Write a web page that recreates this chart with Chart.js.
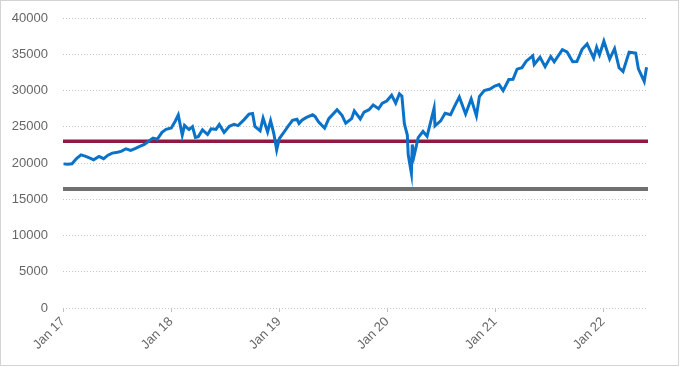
<!DOCTYPE html>
<html>
<head>
<meta charset="utf-8">
<script src="https://cdn.jsdelivr.net/npm/chart.js@4"></script>
<style>
  html, body { margin: 0; padding: 0; background: #fff; }
  #wrap { width: 682px; height: 369px; }
</style>
</head>
<body>
<div id="wrap"><canvas id="dowChart" width="682" height="369"></canvas></div>
<script>
// Index level (roughly twice a month)
const dates = [
  '2017-01-03', '2017-01-17', '2017-02-01', '2017-02-15', '2017-03-01', '2017-03-15', '2017-04-03', '2017-04-13',
  '2017-05-01', '2017-05-17', '2017-06-01', '2017-06-15', '2017-07-03', '2017-07-17', '2017-08-01', '2017-08-17',
  '2017-09-01', '2017-09-15', '2017-10-02', '2017-10-16', '2017-11-01', '2017-11-15', '2017-12-01', '2017-12-15',
  '2018-01-02', '2018-01-16', '2018-01-26', '2018-02-08', '2018-02-15', '2018-03-01', '2018-03-13', '2018-03-23',
  '2018-04-02', '2018-04-16', '2018-05-03', '2018-05-15', '2018-06-01', '2018-06-12', '2018-06-28', '2018-07-16',
  '2018-08-01', '2018-08-15', '2018-09-04', '2018-09-21', '2018-10-03', '2018-10-11', '2018-10-29', '2018-11-08',
  '2018-11-23', '2018-12-03', '2018-12-14', '2018-12-24',
  '2019-01-02', '2019-01-15', '2019-02-01', '2019-02-15', '2019-03-01', '2019-03-08', '2019-03-18', '2019-04-01',
  '2019-04-23', '2019-05-01', '2019-05-13', '2019-06-03', '2019-06-17', '2019-07-15', '2019-08-01', '2019-08-14',
  '2019-09-03', '2019-09-12', '2019-10-02', '2019-10-15', '2019-11-01', '2019-11-15', '2019-12-03', '2019-12-16',
  '2019-12-31',
  '2020-01-17', '2020-01-31', '2020-02-12', '2020-02-20', '2020-02-28', '2020-03-09', '2020-03-12', '2020-03-16',
  '2020-03-23', '2020-03-26', '2020-04-01', '2020-04-15', '2020-05-01', '2020-05-15', '2020-06-08', '2020-06-11',
  '2020-06-30', '2020-07-15', '2020-08-03', '2020-08-17', '2020-09-02', '2020-09-23', '2020-10-12', '2020-10-30',
  '2020-11-09', '2020-11-25', '2020-12-15', '2020-12-31',
  '2021-01-15', '2021-01-29', '2021-02-16', '2021-03-01', '2021-03-15', '2021-04-01', '2021-04-15', '2021-05-07',
  '2021-05-12', '2021-06-01', '2021-06-18', '2021-07-07', '2021-07-19', '2021-08-16', '2021-09-01', '2021-09-20',
  '2021-10-04', '2021-10-22', '2021-11-08', '2021-11-30', '2021-12-10', '2021-12-20',
  '2022-01-04', '2022-01-24', '2022-02-09', '2022-02-23', '2022-03-08', '2022-03-29', '2022-04-20', '2022-04-29',
  '2022-05-19', '2022-05-27'
];
const indexValues = [
  19880, 19830, 19890, 20610, 21115, 20950, 20650, 20450,
  20915, 20600, 21080, 21360, 21480, 21630, 21960, 21750,
  21990, 22270, 22560, 22960, 23440, 23270, 24230, 24650,
  24820, 25800, 26620, 23860, 25200, 24610, 25010, 23530,
  23640, 24570, 23930, 24710, 24640, 25320, 24220, 25060,
  25330, 25160, 25950, 26740, 26830, 25050, 24440, 26190,
  24290, 25830, 24100, 21790,
  23350, 24070, 25060, 25880, 26030, 25450, 25910, 26260,
  26650, 26430, 25680, 24820, 26110, 27360, 26580, 25480,
  26120, 27180, 26080, 27020, 27350, 28000, 27500, 28240,
  28540,
  29350, 28260, 29550, 29220, 25410, 23850, 21200, 20190,
  18590, 22550, 20940, 23500, 24350, 23690, 27570, 25130,
  25810, 26870, 26660, 27840, 29100, 26760, 28840, 26500,
  29160, 30000, 30200, 30610,
  30810, 29980, 31520, 31540, 32950, 33150, 34040, 34780,
  33590, 34580, 33290, 34680, 33960, 35630, 35310, 33970,
  34000, 35680, 36430, 34480, 35970, 34930,
  36800, 34360, 35770, 33130, 32630, 35290, 35160, 32980,
  31250, 33210
];

// the two flat reference levels
const upperLevel = 23000;
const lowerLevel = 16400;

const xTickLabels = ['Jan 17', 'Jan 18', 'Jan 19', 'Jan 20', 'Jan 21', 'Jan 22'];
const yTicks = [0, 5000, 10000, 15000, 20000, 25000, 30000, 35000, 40000];

// months since Jan 2017 (fractional), used as the x value
function toMonths(d) {
  const [y, m, day] = d.split('-').map(Number);
  const dim = new Date(y, m, 0).getDate();
  return (y - 2017) * 12 + (m - 1) + (day - 1) / dim;
}

const xEnd = 65;
const indexPoints = dates.map((d, i) => ({ x: toMonths(d), y: indexValues[i] }));

// dotted frame round the whole picture
const frame = {
  id: 'frame',
  afterDraw(chart) {
    const c = chart.ctx;
    c.save();
    c.strokeStyle = '#a6a6a6';
    c.lineWidth = 1;
    c.setLineDash([1, 1]);
    c.strokeRect(0.5, 0.5, 678, 365);
    c.restore();
  }
};

const ctx = document.getElementById('dowChart').getContext('2d');
new Chart(ctx, {
  type: 'line',
  data: {
    datasets: [
      {
        data: indexPoints,
        borderColor: '#0a72c8',
        borderWidth: 3,
        pointRadius: 0,
        tension: 0
      },
      {
        data: [{ x: 0, y: upperLevel }, { x: xEnd, y: upperLevel }],
        borderColor: '#8c1a43',
        borderWidth: 3.5,
        pointRadius: 0
      },
      {
        data: [{ x: 0, y: lowerLevel }, { x: xEnd, y: lowerLevel }],
        borderColor: '#707070',
        borderWidth: 4,
        pointRadius: 0
      }
    ]
  },
  options: {
    responsive: false,
    animation: false,
    layout: { padding: { left: 0, right: 34, top: 18, bottom: 0 } },
    plugins: { legend: { display: false }, tooltip: { enabled: false } },
    scales: {
      x: {
        type: 'linear',
        min: 0,
        max: xEnd,
        afterBuildTicks: s => { s.ticks = xTickLabels.map((_, i) => ({ value: i * 12 })); },
        afterFit: s => {
          s.height = 61;
          s.paddingLeft = 0; s.paddingRight = 0; s.paddingTop = 0; s.paddingBottom = 0;
        },
        ticks: {
          autoSkip: false,
          maxRotation: 45,
          minRotation: 45,
          padding: 2,
          color: '#666',
          font: { family: 'Liberation Sans, Arial', size: 13 },
          callback: v => xTickLabels[Math.round(v / 12)]
        },
        grid: { drawOnChartArea: false, tickLength: 4, color: '#bfbfbf' },
        border: { display: false }
      },
      y: {
        min: 0,
        max: 40000,
        afterBuildTicks: s => { s.ticks = yTicks.map(v => ({ value: v })); },
        afterFit: s => {
          s.width = 63;
          s.paddingLeft = 0; s.paddingRight = 0; s.paddingTop = 0; s.paddingBottom = 0;
        },
        ticks: {
          padding: 15,
          color: '#666',
          font: { family: 'Liberation Sans, Arial', size: 13 },
          callback: v => String(v)
        },
        grid: { drawTicks: false, color: '#c4c4c4', lineWidth: 1 },
        border: { display: false, dash: [1, 2] }
      }
    }
  },
  plugins: [frame]
});
</script>
</body>
</html>
